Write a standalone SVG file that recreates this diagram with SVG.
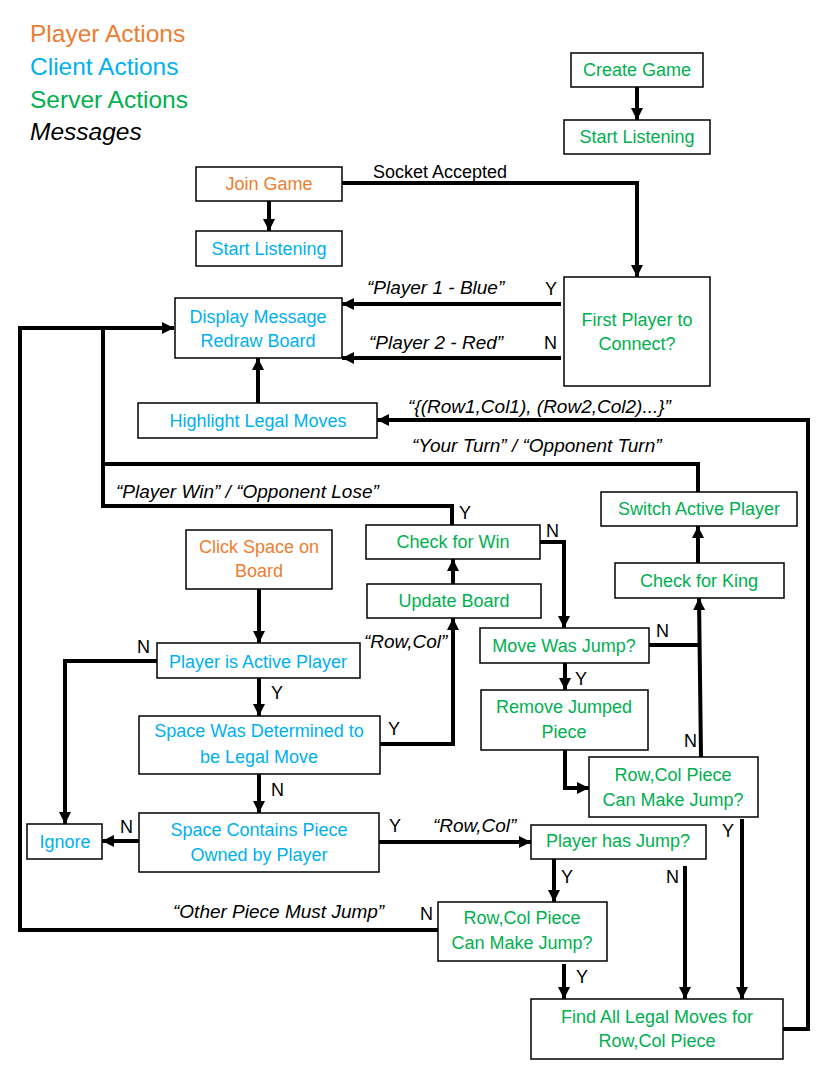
<svg xmlns="http://www.w3.org/2000/svg" width="835" height="1080" viewBox="0 0 835 1080">
<style>
text{font-family:"Liberation Sans",Arial,sans-serif;font-size:18px}
.n rect{fill:#fff;stroke:#000;stroke-width:1.5}
.n text{text-anchor:middle}
.o{fill:#ED7D31}.b{fill:#00B0F0}.g{fill:#00B050}
.m{font-style:italic;font-size:19px;fill:#000}
.lg{font-size:24.5px}
#connectors path{fill:none;stroke:#000;stroke-width:4}
.a{marker-end:url(#ah)}
</style>
<defs>
<marker id="ah" markerUnits="userSpaceOnUse" viewBox="0 0 12 12" refX="12" refY="6" markerWidth="12" markerHeight="12" orient="auto">
<path d="M0,0 L12,6 L0,12 z" fill="#000"/>
</marker>
</defs>
<rect width="835" height="1080" fill="#fff"/>
<g id="legend">
<text class="lg o" x="30" y="42">Player Actions</text>
<text class="lg b" x="30" y="75">Client Actions</text>
<text class="lg g" x="30" y="108">Server Actions</text>
<text class="lg" x="30" y="140" font-style="italic">Messages</text>
</g>
<g id="connectors">
<path class="a" d="M637,87 V120"/>
<path class="a" d="M269,201 V231"/>
<path class="a" d="M342,183 H637 V277"/>
<path class="a" d="M561,304 H342"/>
<path class="a" d="M561,358 H342"/>
<path class="a" d="M258,403 V358"/>
<path class="a" d="M783,1029 H808 V420 H377"/>
<path d="M698,492 V464 H103"/>
<path d="M452,525 V506 H103 V328"/>
<path class="a" d="M438,930 H20 V328 H174"/>
<path class="a" d="M698,563 V526"/>
<path class="a" d="M453,584 V559"/>
<path class="a" d="M380,744 H453 V618"/>
<path class="a" d="M540,542 H564 V628"/>
<path class="a" d="M565,663 V690"/>
<path d="M649,645 H700"/>
<path class="a" d="M701,757 L699,598"/>
<path class="a" d="M565,750 V788 H589"/>
<path class="a" d="M259,589 V643"/>
<path class="a" d="M157,661 H65 V824"/>
<path class="a" d="M259,678 V716"/>
<path class="a" d="M259,774 V813"/>
<path class="a" d="M139,841 H102"/>
<path class="a" d="M379,842 H531"/>
<path class="a" d="M554,859 V902"/>
<path class="a" d="M564,964 V999"/>
<path class="a" d="M685,866 V999"/>
<path class="a" d="M742,819 V999"/>
</g>
<g id="labels">
<text x="373" y="178">Socket Accepted</text>
<text class="m" x="367" y="294">“Player 1 - Blue”</text>
<text x="545" y="295">Y</text>
<text class="m" x="369" y="349">“Player 2 - Red”</text>
<text x="544" y="349">N</text>
<text class="m" x="408" y="413">“{(Row1,Col1), (Row2,Col2)...}”</text>
<text class="m" x="412" y="452">“Your Turn” / “Opponent Turn”</text>
<text class="m" x="116" y="498">“Player Win” / “Opponent Lose”</text>
<text x="459" y="519">Y</text>
<text x="546" y="537">N</text>
<text class="m" x="364" y="648">“Row,Col”</text>
<text x="137" y="653">N</text>
<text x="271" y="699">Y</text>
<text x="388" y="735">Y</text>
<text x="656" y="637">N</text>
<text x="575" y="685">Y</text>
<text x="684" y="747">N</text>
<text x="271" y="796">N</text>
<text x="120" y="833">N</text>
<text x="389" y="832">Y</text>
<text class="m" x="433" y="832">“Row,Col”</text>
<text x="722" y="837">Y</text>
<text x="561" y="883">Y</text>
<text x="666" y="883">N</text>
<text class="m" x="173" y="918">“Other Piece Must Jump”</text>
<text x="420" y="920">N</text>
<text x="576" y="983">Y</text>
</g>
<g id="create-game" class="n"><rect x="571" y="53" width="132" height="34"/><text class="g" x="637" y="76">Create Game</text></g>
<g id="server-start-listening" class="n"><rect x="564" y="120" width="146" height="34"/><text class="g" x="637" y="143">Start Listening</text></g>
<g id="join-game" class="n"><rect x="196" y="167" width="146" height="34"/><text class="o" x="269" y="190">Join Game</text></g>
<g id="client-start-listening" class="n"><rect x="196" y="231" width="146" height="35"/><text class="b" x="269" y="255">Start Listening</text></g>
<g id="first-player" class="n"><rect x="564" y="277" width="146" height="109"/><text class="g" x="637" y="326">First Player to</text><text class="g" x="637" y="350">Connect?</text></g>
<g id="display-message" class="n"><rect x="175" y="298" width="167" height="60"/><text class="b" x="258" y="323">Display Message</text><text class="b" x="258" y="347">Redraw Board</text></g>
<g id="highlight-legal-moves" class="n"><rect x="138" y="403" width="239" height="35"/><text class="b" x="258" y="427">Highlight Legal Moves</text></g>
<g id="switch-active-player" class="n"><rect x="601" y="492" width="196" height="34"/><text class="g" x="699" y="515">Switch Active Player</text></g>
<g id="check-for-win" class="n"><rect x="366" y="525" width="174" height="34"/><text class="g" x="453" y="548">Check for Win</text></g>
<g id="click-space" class="n"><rect x="186" y="530" width="146" height="59"/><text class="o" x="259" y="553">Click Space on</text><text class="o" x="259" y="577">Board</text></g>
<g id="check-for-king" class="n"><rect x="615" y="563" width="169" height="35"/><text class="g" x="699" y="587">Check for King</text></g>
<g id="update-board" class="n"><rect x="367" y="584" width="174" height="34"/><text class="g" x="454" y="607">Update Board</text></g>
<g id="move-was-jump" class="n"><rect x="480" y="628" width="169" height="35"/><text class="g" x="564" y="652">Move Was Jump?</text></g>
<g id="player-active" class="n"><rect x="157" y="643" width="203" height="35"/><text class="b" x="258" y="668">Player is Active Player</text></g>
<g id="remove-jumped" class="n"><rect x="481" y="690" width="167" height="60"/><text class="g" x="564" y="713">Remove Jumped</text><text class="g" x="564" y="738">Piece</text></g>
<g id="space-legal" class="n"><rect x="139" y="716" width="241" height="58"/><text class="b" x="259" y="737">Space Was Determined to</text><text class="b" x="259" y="763">be Legal Move</text></g>
<g id="rowcol-jump-upper" class="n"><rect x="589" y="757" width="169" height="60"/><text class="g" x="673" y="781">Row,Col Piece</text><text class="g" x="673" y="806">Can Make Jump?</text></g>
<g id="space-contains" class="n"><rect x="139" y="813" width="240" height="59"/><text class="b" x="259" y="836">Space Contains Piece</text><text class="b" x="259" y="861">Owned by Player</text></g>
<g id="ignore" class="n"><rect x="27" y="824" width="75" height="35"/><text class="b" x="65" y="848">Ignore</text></g>
<g id="player-has-jump" class="n"><rect x="531" y="825" width="175" height="34"/><text class="g" x="618" y="847">Player has Jump?</text></g>
<g id="rowcol-jump-lower" class="n"><rect x="438" y="902" width="169" height="59"/><text class="g" x="522" y="924">Row,Col Piece</text><text class="g" x="522" y="949">Can Make Jump?</text></g>
<g id="find-legal-moves" class="n"><rect x="531" y="999" width="252" height="60"/><text class="g" x="657" y="1023">Find All Legal Moves for</text><text class="g" x="657" y="1047">Row,Col Piece</text></g>
</svg>
